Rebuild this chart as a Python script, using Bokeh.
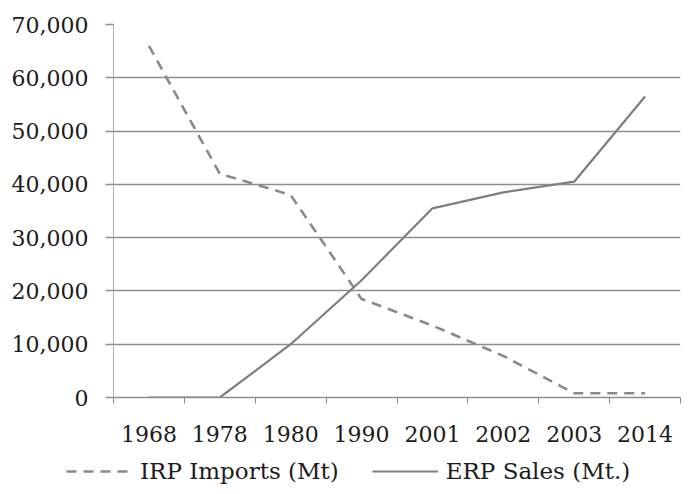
from bokeh.plotting import figure
from bokeh.models import (ColumnDataSource, Range1d, FixedTicker, NumeralTickFormatter,
                          Legend, LegendItem)
from bokeh.embed import file_html
from bokeh.resources import INLINE

years = ["1968", "1978", "1980", "1990", "2001", "2002", "2003", "2014"]
irp_imports = [66000, 42000, 38000, 18500, 13500, 7800, 800, 800]
erp_sales = [0, 0, 10000, 22000, 35500, 38500, 40500, 56500]
y_ticks = [0, 10000, 20000, 30000, 40000, 50000, 60000, 70000]
series_names = ["IRP Imports (Mt)", "ERP Sales (Mt.)"]

xpos = [i + 0.5 for i in range(len(years))]
src = ColumnDataSource(dict(x=xpos, irp=irp_imports, erp=erp_sales))

FONT = "DejaVu Serif"
TXT = "#1c1c1c"
GRID = "#8e8e8e"
IRP_STYLE = dict(line_color="#8a8a8a", line_width=2.6, line_dash="10 7")
ERP_STYLE = dict(line_color="#7e7e7e", line_width=2.2)

p = figure(width=684, height=447, output_backend="svg", toolbar_location=None,
           x_range=Range1d(0, len(years)), y_range=Range1d(0, 70000),
           min_border_left=113, min_border_right=4, min_border_top=24,
           min_border_bottom=50)
p.outline_line_color = None
p.background_fill_color = "white"
p.xgrid.visible = False
p.ygrid.grid_line_color = GRID
p.ygrid.grid_line_width = 1.3

# y axis
p.yaxis.ticker = FixedTicker(ticks=y_ticks)
p.yaxis.formatter = NumeralTickFormatter(format="0,0")
p.yaxis.axis_line_color = "#b0b0b0"
p.yaxis.axis_line_width = 1
p.yaxis.major_tick_line_color = GRID
p.yaxis.major_tick_line_width = 1.3
p.yaxis.major_tick_out = 8
p.yaxis.major_tick_in = 0
p.yaxis.minor_tick_line_color = None
p.yaxis.major_label_standoff = 17
p.yaxis.major_label_text_font = FONT
p.yaxis.major_label_text_font_size = "22px"
p.yaxis.major_label_text_color = TXT

# x axis
p.xaxis.ticker = FixedTicker(ticks=xpos, minor_ticks=list(range(len(years) + 1)))
p.xaxis.major_label_overrides = {x: y for x, y in zip(xpos, years)}
p.xaxis.axis_line_color = GRID
p.xaxis.axis_line_width = 1.3
p.xaxis.major_tick_line_color = None
p.xaxis.minor_tick_line_color = GRID
p.xaxis.minor_tick_out = 6
p.xaxis.minor_tick_in = 0
p.xaxis.major_label_standoff = 22
p.xaxis.major_label_text_font = FONT
p.xaxis.major_label_text_font_size = "22px"
p.xaxis.major_label_text_color = TXT

p.line("x", "irp", source=src, **IRP_STYLE)
p.line("x", "erp", source=src, **ERP_STYLE)

# legend strip below the chart (separate root so its frame spans the full width)
lg = figure(width=684, height=44, output_backend="svg", toolbar_location=None,
            x_range=Range1d(0, 1), y_range=Range1d(0, 1),
            min_border_left=0, min_border_right=0, min_border_top=0,
            min_border_bottom=0)
lg.xaxis.visible = False
lg.yaxis.visible = False
lg.grid.visible = False
lg.outline_line_color = None
l_irp = lg.line(x=[5, 6], y=[5, 5], **IRP_STYLE)
l_erp = lg.line(x=[5, 6], y=[5, 5], **ERP_STYLE)

legend = Legend(items=[LegendItem(label=series_names[0], renderers=[l_irp]),
                       LegendItem(label=series_names[1], renderers=[l_erp])],
                location=(66, 7), orientation="horizontal",
                border_line_color=None, background_fill_alpha=0,
                padding=0, margin=0, spacing=33, glyph_width=66, glyph_height=24,
                label_standoff=8, label_height=24,
                label_text_font=FONT, label_text_font_size="23px",
                label_text_color=TXT)
lg.add_layout(legend)

open("out.html", "w").write(file_html([p, lg], INLINE))
